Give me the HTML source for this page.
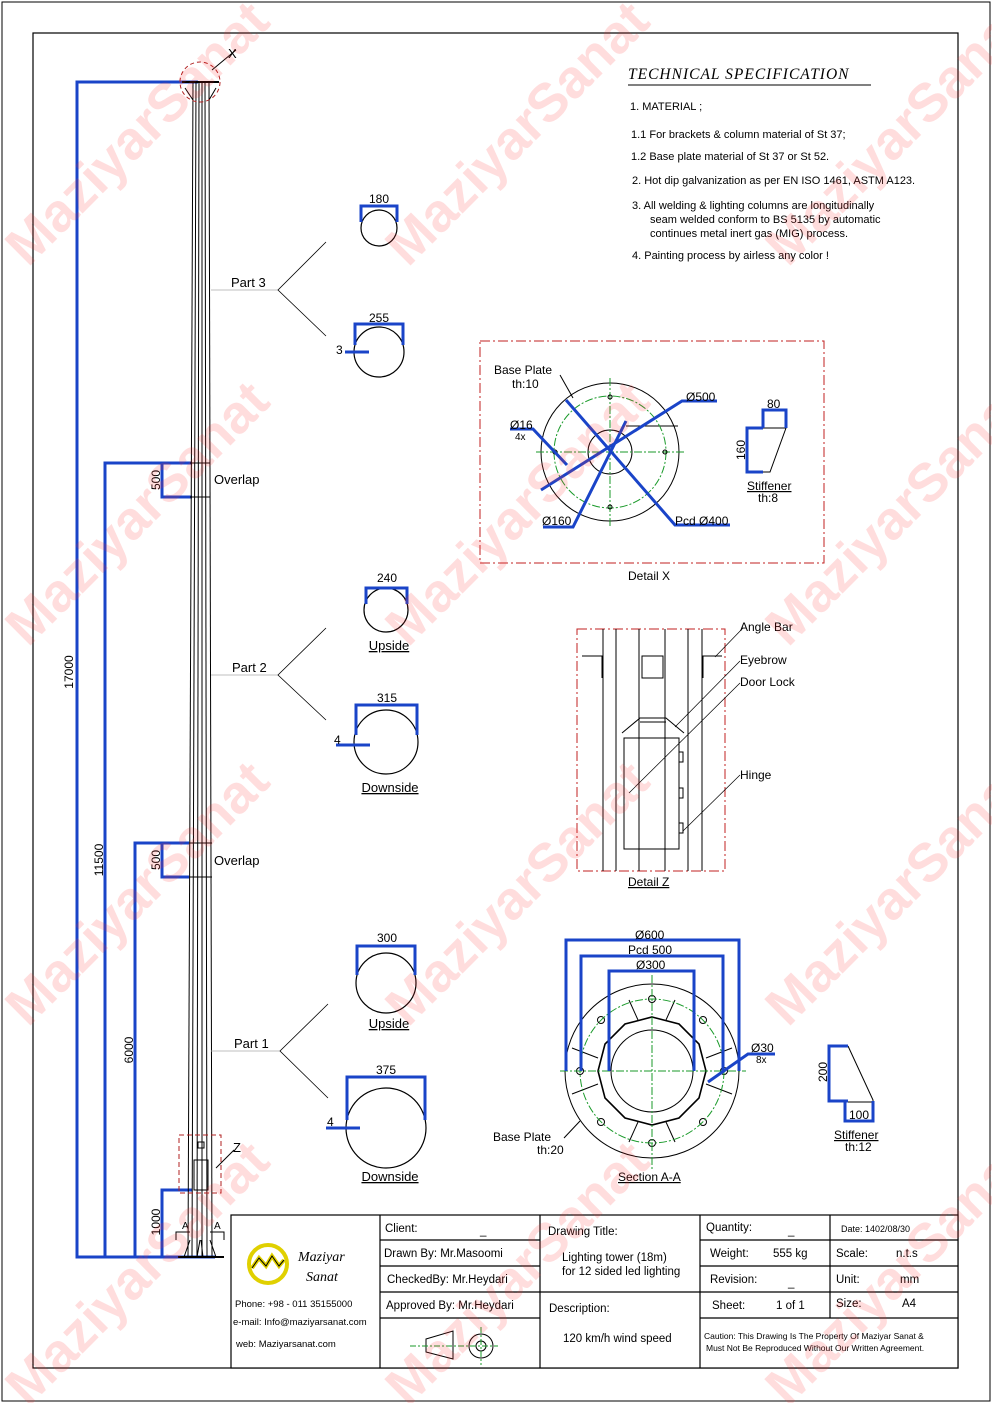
<!DOCTYPE html>
<html><head><meta charset="utf-8"><style>
html,body{margin:0;padding:0;background:#fff}
svg{display:block}
text{font-family:"Liberation Sans",sans-serif}
.wm{font-family:"Liberation Sans",sans-serif;font-weight:bold;font-size:54px;fill:#ff3030;opacity:0.16}
</style></head><body>
<svg width="992" height="1403" viewBox="0 0 992 1403" xmlns="http://www.w3.org/2000/svg">
<rect x="0" y="0" width="992" height="1403" fill="#fff"/>
<rect x="2" y="2" width="988" height="1399" fill="none" stroke="#000" stroke-width="1"/>
<rect x="33" y="33" width="925" height="1335" fill="none" stroke="#000" stroke-width="1.2"/>

<g stroke="#1a44c8" stroke-width="3" fill="none">
<polyline points="198,82 77,82 77,1257 215,1257"/>
<polyline points="192,463 105,463 105,1257"/>
<polyline points="162,463 162,497 192,497"/>
<polyline points="189,843 135,843 135,1257"/>
<polyline points="162,843 162,877 189,877"/>
<polyline points="192,1190 162,1190 162,1257"/>
</g>
<g font-size="12" fill="#000">
<text transform="translate(73,672) rotate(-90)" text-anchor="middle">17000</text>
<text transform="translate(103,860) rotate(-90)" text-anchor="middle">11500</text>
<text transform="translate(133,1050) rotate(-90)" text-anchor="middle">6000</text>
<text transform="translate(160,1222) rotate(-90)" text-anchor="middle">1000</text>
<text transform="translate(160,480) rotate(-90)" text-anchor="middle">500</text>
<text transform="translate(160,860) rotate(-90)" text-anchor="middle">500</text>
</g>

<g stroke="#000" stroke-width="1" fill="none">
<line x1="193" y1="82" x2="188" y2="1257"/>
<line x1="196" y1="82" x2="192" y2="1257"/>
<line x1="199" y1="82" x2="197" y2="1257"/>
<line x1="202" y1="82" x2="202" y2="1257"/>
<line x1="205" y1="82" x2="207" y2="1257"/>
<line x1="209" y1="82" x2="212" y2="1257"/>
<line x1="182" y1="82" x2="219" y2="82" stroke-width="2"/>
<line x1="178" y1="1257" x2="224" y2="1257" stroke-width="2"/>
<line x1="190" y1="463" x2="210" y2="463"/><line x1="190" y1="497" x2="210" y2="497"/>
<line x1="189" y1="843" x2="212" y2="843"/><line x1="189" y1="877" x2="212" y2="877"/>
<line x1="185" y1="88" x2="193" y2="100"/><line x1="216" y1="88" x2="209" y2="100"/>
<line x1="184" y1="1257" x2="190" y2="1240"/><line x1="216" y1="1257" x2="210" y2="1240"/>
<line x1="197" y1="1257" x2="200" y2="1240"/><line x1="203" y1="1257" x2="201" y2="1240"/>
<rect x="194" y="1160" width="14" height="30"/>
<rect x="198" y="1142" width="6" height="6"/>
<polyline points="176,1240 176,1232 190,1232"/><polyline points="224,1240 224,1232 210,1232"/>
</g>
<text x="182" y="1229" font-size="10">A</text><text x="214" y="1229" font-size="10">A</text>
<circle cx="200" cy="82" r="20" fill="none" stroke="#b02020" stroke-dasharray="4,3"/>
<line x1="212" y1="70" x2="236" y2="50" stroke="#000"/><text x="228" y="58" font-size="13">X</text>
<rect x="179" y="1135" width="42" height="58" fill="none" stroke="#b02020" stroke-dasharray="5,3"/>
<line x1="216" y1="1168" x2="234" y2="1150" stroke="#000"/><text x="233" y="1152" font-size="13">Z</text>
<g font-size="13"><text x="214" y="484">Overlap</text><text x="214" y="865">Overlap</text></g>

<g stroke="#000" stroke-width="0.8" fill="none">
<line x1="211" y1="290" x2="278" y2="290" stroke="#aaa"/>
<polyline points="326,242 278,290 326,336"/>
<line x1="211" y1="675" x2="278" y2="675" stroke="#aaa"/>
<polyline points="326,628 278,675 326,720"/>
<line x1="211" y1="1051" x2="280" y2="1051" stroke="#aaa"/>
<polyline points="328,1004 280,1051 328,1098"/>
</g>
<g font-size="13"><text x="231" y="287">Part 3</text><text x="232" y="672">Part 2</text><text x="234" y="1048">Part 1</text></g>

<g stroke="#000" stroke-width="1.2" fill="none">
<circle cx="379" cy="228" r="18"/>
<circle cx="379" cy="352" r="25"/>
<circle cx="386" cy="610" r="22"/>
<circle cx="386" cy="742" r="32"/>
<circle cx="386" cy="983" r="30"/>
<circle cx="386" cy="1128" r="40"/>
</g>
<g stroke="#1a44c8" stroke-width="3" fill="none">
<polyline points="361,222 361,206 397,206 397,222"/>
<polyline points="355,345 355,324 403,324 403,345"/>
<line x1="345" y1="352" x2="369" y2="352"/>
<polyline points="366,604 366,588 407,588 407,604"/>
<polyline points="356,735 356,705 417,705 417,735"/>
<line x1="336" y1="745" x2="370" y2="745"/>
<polyline points="357,975 357,946 415,946 415,975"/>
<polyline points="347,1120 347,1077 425,1077 425,1120"/>
<line x1="326" y1="1128" x2="360" y2="1128"/>
</g>
<g font-size="12" text-anchor="middle">
<text x="379" y="203">180</text><text x="379" y="322">255</text><text x="387" y="582">240</text>
<text x="387" y="702">315</text><text x="387" y="942">300</text><text x="386" y="1074">375</text>
</g>
<g font-size="12"><text x="336" y="354">3</text><text x="334" y="744">4</text><text x="327" y="1126">4</text></g>
<g font-size="13" text-anchor="middle" text-decoration="underline">
<text x="389" y="650">Upside</text><text x="390" y="792">Downside</text>
<text x="389" y="1028">Upside</text><text x="390" y="1181">Downside</text>
</g>

<text x="628" y="79" style="font-family:'Liberation Serif',serif;font-style:italic;font-size:15.5px" letter-spacing="1">TECHNICAL SPECIFICATION</text>
<line x1="628" y1="85" x2="871" y2="85" stroke="#000"/>
<g font-size="11">
<text x="630" y="110">1. MATERIAL ;</text>
<text x="631" y="138">1.1  For brackets &amp; column material of St 37;</text>
<text x="631" y="160">1.2  Base plate material of St 37 or St 52.</text>
<text x="632" y="184">2.  Hot dip galvanization as per EN ISO 1461, ASTM A123.</text>
<text x="632" y="209">3.  All welding &amp; lighting columns are longitudinally</text>
<text x="650" y="223">seam  welded conform to BS 5135 by automatic</text>
<text x="650" y="237">continues metal inert gas (MIG) process.</text>
<text x="632" y="259">4.  Painting process by airless any color !</text>
</g>

<rect x="480" y="341" width="344" height="222" fill="none" stroke="#c02020" stroke-dasharray="10,3,2,3"/>
<g fill="none" stroke="#000" stroke-width="1">
<circle cx="610" cy="452" r="69"/><circle cx="610" cy="452" r="22"/>
<line x1="626" y1="426" x2="678" y2="426"/>
</g>
<g fill="none" stroke="#1a9a2a" stroke-width="1" stroke-dasharray="8,2,2,2">
<circle cx="610" cy="452" r="56"/>
<line x1="536" y1="452" x2="684" y2="452"/><line x1="610" y1="378" x2="610" y2="526"/>
</g>
<g fill="none" stroke="#000"><circle cx="610" cy="397" r="2"/><circle cx="610" cy="507" r="2"/><circle cx="555" cy="452" r="2"/><circle cx="665" cy="452" r="2"/></g>
<g stroke="#1a44c8" stroke-width="3" fill="none">
<polyline points="566,400 675,525 730,525"/>
<polyline points="541,490 682,401 717,401"/>
<polyline points="543,527 573,527 626,421"/>
<polyline points="510,429 533,429 567,465"/>
</g>
<line x1="573" y1="398" x2="560" y2="375" stroke="#000"/>
<g font-size="12">
<text x="494" y="374">Base Plate</text><text x="512" y="388">th:10</text>
<text x="686" y="401">Ø500</text><text x="510" y="429">Ø16</text><text x="515" y="440" font-size="10">4x</text>
<text x="542" y="525">Ø160</text><text x="675" y="525">Pcd Ø400</text>
<text x="628" y="580">Detail X</text>
<text x="767" y="408">80</text><text x="747" y="490" text-decoration="underline">Stiffener</text><text x="758" y="502">th:8</text>
<text transform="translate(745,450) rotate(-90)" text-anchor="middle">160</text>
</g>
<g fill="none" stroke="#000"><polyline points="763,428 786,428 770,472 763,472"/></g>
<g stroke="#1a44c8" stroke-width="3" fill="none">
<polyline points="763,428 763,410 786,410 786,428"/>
<polyline points="763,428 747,428 747,472 763,472"/>
</g>

<rect x="577" y="629" width="148" height="242" fill="none" stroke="#c02020" stroke-dasharray="10,3,2,3"/>
<g fill="none" stroke="#000" stroke-width="1">
<line x1="603" y1="629" x2="603" y2="871"/><line x1="616" y1="629" x2="616" y2="871"/>
<line x1="639" y1="629" x2="639" y2="871"/><line x1="665" y1="629" x2="665" y2="871"/>
<line x1="688" y1="629" x2="688" y2="871"/><line x1="702" y1="629" x2="702" y2="871"/>
<polyline points="582,656 602,656 602,678"/><polyline points="722,656 703,656 703,678"/>
<rect x="642" y="656" width="21" height="22"/>
<rect x="624" y="738" width="55" height="111"/>
<polyline points="622,733 640,718 666,718 684,733"/><line x1="640" y1="722" x2="666" y2="722"/>
<rect x="679" y="752" width="4" height="10"/><rect x="679" y="788" width="4" height="10"/><rect x="679" y="823" width="4" height="10"/>
<line x1="715" y1="657" x2="743" y2="628" stroke-width="0.7"/>
<line x1="675" y1="727" x2="740" y2="661" stroke-width="0.7"/>
<line x1="629" y1="793" x2="740" y2="683" stroke-width="0.7"/>
<line x1="683" y1="831" x2="740" y2="775" stroke-width="0.7"/>
</g>
<g font-size="12">
<text x="740" y="631">Angle Bar</text><text x="740" y="664">Eyebrow</text><text x="740" y="686">Door Lock</text>
<text x="740" y="779">Hinge</text><text x="628" y="886" text-decoration="underline">Detail Z</text>
</g>

<g fill="none" stroke="#000" stroke-width="1">
<circle cx="652" cy="1071" r="87"/><circle cx="652" cy="1071" r="41"/>
<polygon points="652,1017 679,1024 699,1044 706,1071 699,1098 679,1118 652,1125 625,1118 605,1098 598,1071 605,1044 625,1024" stroke-width="1.6"/>
<line x1="629" y1="1000" x2="638" y2="1020"/><line x1="675" y1="1000" x2="666" y2="1020"/>
<line x1="572" y1="1048" x2="598" y2="1058"/><line x1="732" y1="1048" x2="706" y2="1058"/>
<line x1="572" y1="1094" x2="598" y2="1084"/><line x1="732" y1="1094" x2="706" y2="1084"/>
<line x1="629" y1="1142" x2="638" y2="1122"/><line x1="675" y1="1142" x2="666" y2="1122"/>
<circle cx="652" cy="999" r="3.5"/><circle cx="652" cy="1143" r="3.5"/><circle cx="580" cy="1071" r="3.5"/><circle cx="724" cy="1071" r="3.5"/>
<circle cx="601" cy="1020" r="3.5"/><circle cx="703" cy="1020" r="3.5"/><circle cx="601" cy="1122" r="3.5"/><circle cx="703" cy="1122" r="3.5"/>
</g>
<g fill="none" stroke="#1a9a2a" stroke-width="1" stroke-dasharray="8,2,2,2">
<circle cx="652" cy="1071" r="72"/>
<line x1="560" y1="1071" x2="746" y2="1071"/><line x1="652" y1="975" x2="652" y2="1170"/>
</g>
<g stroke="#1a44c8" stroke-width="3" fill="none">
<polyline points="566,1071 566,940 739,940 739,1071"/>
<polyline points="581,1071 581,956 723,956 723,1071"/>
<polyline points="609,1071 609,971 694,971 694,1071"/>
<polyline points="708,1082 748,1054 775,1054"/>
</g>
<line x1="564" y1="1138" x2="580" y2="1121" stroke="#000"/>
<g font-size="12">
<text x="635" y="939">Ø600</text><text x="628" y="954">Pcd 500</text><text x="636" y="969">Ø300</text>
<text x="751" y="1052">Ø30</text><text x="756" y="1063" font-size="10">8x</text>
<text x="493" y="1141">Base Plate</text><text x="537" y="1154">th:20</text>
<text x="618" y="1181" text-decoration="underline">Section A-A</text>
<text x="834" y="1139" text-decoration="underline">Stiffener</text><text x="845" y="1151">th:12</text>
<text x="849" y="1119">100</text>
<text transform="translate(827,1072) rotate(-90)" text-anchor="middle">200</text>
</g>
<polyline points="848,1046 873,1100 873,1102 848,1102" fill="none" stroke="#000"/>
<g stroke="#1a44c8" stroke-width="3" fill="none">
<polyline points="848,1046 829,1046 829,1101 848,1101"/>
<polyline points="845,1101 845,1121 873,1121 873,1101"/>
</g>

<g fill="none" stroke="#000" stroke-width="1.2">
<rect x="231" y="1215" width="727" height="153" fill="#fff"/>
<line x1="380" y1="1215" x2="380" y2="1368"/><line x1="540" y1="1215" x2="540" y2="1368"/>
<line x1="700" y1="1215" x2="700" y2="1368"/><line x1="830" y1="1215" x2="830" y2="1318"/>
<line x1="380" y1="1240" x2="540" y2="1240"/><line x1="380" y1="1266" x2="540" y2="1266"/>
<line x1="380" y1="1292" x2="540" y2="1292"/><line x1="380" y1="1318" x2="540" y2="1318"/>
<line x1="540" y1="1292" x2="700" y2="1292"/>
<line x1="700" y1="1240" x2="958" y2="1240"/><line x1="700" y1="1266" x2="958" y2="1266"/>
<line x1="700" y1="1292" x2="958" y2="1292"/><line x1="700" y1="1318" x2="958" y2="1318"/>
</g>
<g>
<circle cx="268" cy="1264" r="19" fill="none" stroke="#e0d000" stroke-width="4"/>
<polyline points="252,1268 259,1258 266,1266 272,1256 279,1266 284,1260" fill="none" stroke="#e0d000" stroke-width="4"/>
<polyline points="252,1268 259,1258 266,1266 272,1256 279,1266 284,1260" fill="none" stroke="#000" stroke-width="1"/>
<text x="298" y="1261" style="font-family:'Liberation Serif',serif;font-style:italic;font-size:14px">Maziyar</text>
<text x="306" y="1281" style="font-family:'Liberation Serif',serif;font-style:italic;font-size:14px">Sanat</text>
</g>
<g font-size="9.5">
<text x="235" y="1307">Phone: +98 - 011 35155000</text>
<text x="233" y="1325">e-mail:  Info@maziyarsanat.com</text>
<text x="236" y="1347">web:    Maziyarsanat.com</text>
</g>
<g font-size="11.5">
<text x="385" y="1232">Client:</text><text x="480" y="1234">_</text>
<text x="384" y="1257">Drawn By:  Mr.Masoomi</text>
<text x="387" y="1283">CheckedBy:  Mr.Heydari</text>
<text x="386" y="1309">Approved By:  Mr.Heydari</text>
<text x="548" y="1235">Drawing Title:</text>
<text x="562" y="1261">Lighting tower (18m)</text>
<text x="562" y="1275">for 12 sided led lighting</text>
<text x="549" y="1312">Description:</text>
<text x="563" y="1342">120 km/h wind speed</text>
<text x="706" y="1231">Quantity:</text><text x="788" y="1234">_</text>
<text x="710" y="1257">Weight:</text><text x="773" y="1257">555 kg</text>
<text x="710" y="1283">Revision:</text><text x="788" y="1286">_</text>
<text x="712" y="1309">Sheet:</text><text x="776" y="1309">1 of 1</text>
<text x="836" y="1257">Scale:</text><text x="896" y="1257">n.t.s</text>
<text x="836" y="1283">Unit:</text><text x="900" y="1283">mm</text>
<text x="836" y="1307">Size:</text><text x="902" y="1307">A4</text>
</g>
<text x="841" y="1232" font-size="9">Date:   1402/08/30</text>
<g font-size="8.5"><text x="704" y="1339">Caution: This Drawing Is The Property Of Maziyar Sanat &amp;</text>
<text x="706" y="1351">Must Not Be Reproduced Without Our Written Agreement.</text></g>
<g fill="none" stroke="#000">
<polygon points="426,1339 453,1331 453,1359 426,1352"/>
<circle cx="481" cy="1346" r="12"/><circle cx="481" cy="1346" r="5"/>
</g>
<g stroke="#1a9a2a" stroke-dasharray="6,2,2,2"><line x1="410" y1="1346" x2="498" y2="1346"/><line x1="481" y1="1327" x2="481" y2="1365"/></g>

<!-- watermarks on top -->
<g>
<text class="wm" transform="translate(28,268) rotate(-45)">MaziyarSanat</text>
<text class="wm" transform="translate(408,268) rotate(-45)">MaziyarSanat</text>
<text class="wm" transform="translate(788,268) rotate(-45)">MaziyarSanat</text>
<text class="wm" transform="translate(28,648) rotate(-45)">MaziyarSanat</text>
<text class="wm" transform="translate(408,648) rotate(-45)">MaziyarSanat</text>
<text class="wm" transform="translate(788,648) rotate(-45)">MaziyarSanat</text>
<text class="wm" transform="translate(28,1028) rotate(-45)">MaziyarSanat</text>
<text class="wm" transform="translate(408,1028) rotate(-45)">MaziyarSanat</text>
<text class="wm" transform="translate(788,1028) rotate(-45)">MaziyarSanat</text>
<text class="wm" transform="translate(28,1408) rotate(-45)">MaziyarSanat</text>
<text class="wm" transform="translate(408,1408) rotate(-45)">MaziyarSanat</text>
<text class="wm" transform="translate(788,1408) rotate(-45)">MaziyarSanat</text>
</g>
</svg>
</body></html>
